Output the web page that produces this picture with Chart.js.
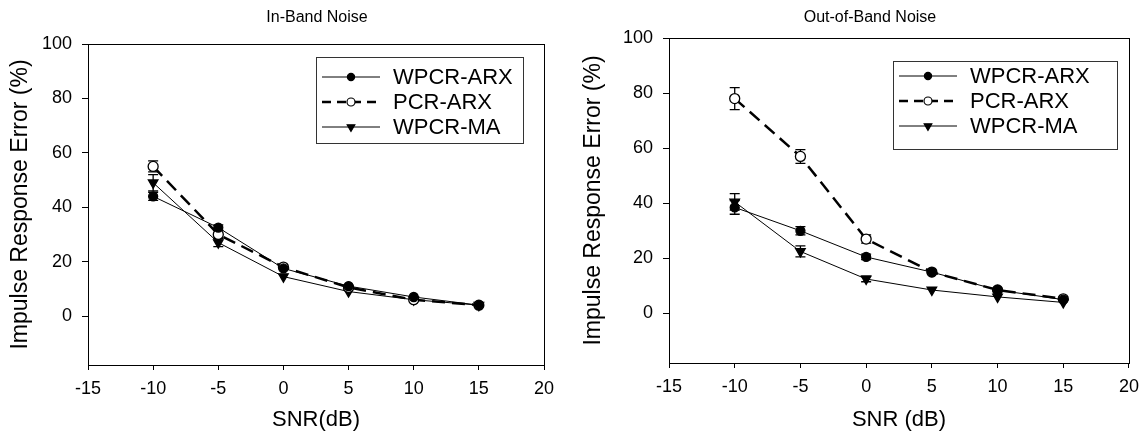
<!DOCTYPE html>
<html><head><meta charset="utf-8">
<script src="https://cdn.jsdelivr.net/npm/chart.js@4.4.0/dist/chart.umd.min.js"></script>
<style>
html,body{margin:0;padding:0;background:#fff;overflow:hidden}
#wrap{position:relative;width:1147px;height:441px;background:#fff}
canvas{position:absolute;top:0}
#c1{left:0}
#c2{left:573px}
</style></head><body>
<div id="wrap"><canvas id="c1" width="573" height="441"></canvas><canvas id="c2" width="574" height="441"></canvas></div>
<script>
// ---- data ----
const snr = [-10, -5, 0, 5, 10, 15];
const seriesNames = ['WPCR-ARX', 'PCR-ARX', 'WPCR-MA'];
const xTicks = [-15, -10, -5, 0, 5, 10, 15, 20];
const yTicks = [0, 20, 40, 60, 80, 100];

// In-Band Noise
const inWPCRARX = [44, 32.5, 17.5, 11, 7, 4];
const inPCRARX  = [55, 30, 18, 10.5, 6, 4];
const inWPCRMA  = [49, 27, 14.5, 9, 6, 4];
const inErrWPCRARX = [1.5, 1, 0.7, 0.5, 0.5, 0.5];
const inErrPCRARX  = [2, 1.5, 0.7, 0.5, 0.5, 0.5];
const inErrWPCRMA  = [3, 1.5, 0.7, 0.5, 0.5, 0.5];

// Out-of-Band Noise
const outWPCRARX = [38.5, 30, 20.5, 15, 8.5, 5];
const outPCRARX  = [78, 57, 27, 15, 8.5, 5.3];
const outWPCRMA  = [40.5, 22.5, 12.5, 8.5, 6, 4];
const outErrWPCRARX = [2.5, 1.5, 1, 0.5, 0.5, 0.5];
const outErrPCRARX  = [4, 2.5, 1.5, 0.5, 0.5, 0.5];
const outErrWPCRMA  = [3, 2, 1, 0.5, 0.5, 0.5];

const FONT = "'Liberation Sans', Arial, Helvetica, sans-serif";

const styles = [
  {borderDash: [], borderWidth: 1, pointStyle: 'circle', pointRadius: 4.5, pointBackgroundColor: '#000', pointRotation: 0},
  {borderDash: [13, 7], borderWidth: 2.5, pointStyle: 'circle', pointRadius: 5, pointBackgroundColor: '#fff', pointRotation: 0},
  {borderDash: [], borderWidth: 1, pointStyle: 'triangle', pointRadius: 5.5, pointBackgroundColor: '#000', pointRotation: 180}
];

function makeDatasets(vals, errs) {
  return vals.map((arr, i) => Object.assign({
    label: seriesNames[i],
    data: snr.map((x, j) => ({x: x, y: arr[j]})),
    err: errs[i],
    borderColor: '#000',
    pointBorderColor: '#000',
    pointBorderWidth: 1.3,
    tension: 0,
    fill: false
  }, styles[i]));
}

// ---- plugins ----
const framePlugin = {
  id: 'frame',
  beforeDatasetsDraw(chart) {
    const a = chart.chartArea, ctx = chart.ctx;
    ctx.save();
    ctx.strokeStyle = '#000';
    ctx.lineWidth = 1;
    ctx.strokeRect(Math.round(a.left) + 0.5, Math.round(a.top) + 0.5, Math.round(a.right - a.left), Math.round(a.bottom - a.top));
    ctx.restore();
  }
};

const errorBarPlugin = {
  id: 'errorBars',
  beforeDatasetsDraw(chart) {
    const ctx = chart.ctx, xs = chart.scales.x, ys = chart.scales.y;
    ctx.save();
    ctx.strokeStyle = '#000';
    ctx.lineWidth = 1.3;
    ctx.setLineDash([]);
    chart.data.datasets.forEach(ds => {
      ds.data.forEach((p, j) => {
        const e = ds.err[j];
        if (!e || e < 1) return;
        const px = xs.getPixelForValue(p.x);
        const y1 = ys.getPixelForValue(p.y + e), y2 = ys.getPixelForValue(p.y - e);
        ctx.beginPath();
        ctx.moveTo(px, y1); ctx.lineTo(px, y2);
        ctx.moveTo(px - 5, y1); ctx.lineTo(px + 5, y1);
        ctx.moveTo(px - 5, y2); ctx.lineTo(px + 5, y2);
        ctx.stroke();
      });
    });
    ctx.restore();
  }
};

function drawMarker(ctx, ds, x, y) {
  Chart.helpers.drawPoint(ctx, {
    pointStyle: ds.pointStyle, rotation: ds.pointRotation, radius: ds.pointRadius * 0.8, borderWidth: 1.2
  }, x, y);
}

const legendBoxPlugin = {
  id: 'legendBox',
  afterDraw(chart, args, opts) {
    const ctx = chart.ctx;
    ctx.save();
    ctx.strokeStyle = '#333';
    ctx.lineWidth = 1;
    ctx.strokeRect(opts.left + 0.5, opts.top + 0.5, opts.width, opts.height);
    chart.data.datasets.forEach((ds, i) => {
      const y = opts.top + opts.rowStart + i * opts.rowGap;
      ctx.strokeStyle = '#000';
      ctx.lineWidth = ds.borderWidth;
      ctx.setLineDash(i === 1 ? [9, 6] : []);
      ctx.beginPath();
      ctx.moveTo(opts.left + 6, y);
      ctx.lineTo(opts.left + 64, y);
      ctx.stroke();
      ctx.setLineDash([]);
      ctx.fillStyle = ds.pointBackgroundColor;
      ctx.strokeStyle = '#000';
      ctx.lineWidth = 1.2;
      drawMarker(ctx, ds, opts.left + 35, y);
      ctx.fillStyle = '#000';
      ctx.font = opts.fontSize + 'px ' + FONT;
      ctx.textBaseline = 'middle';
      ctx.textAlign = 'left';
      ctx.fillText(ds.label, opts.left + 77, y + 1);
    });
    ctx.restore();
  }
};

const panelTitlePlugin = {
  id: 'panelTitle',
  afterDraw(chart, args, opts) {
    const ctx = chart.ctx;
    ctx.save();
    ctx.fillStyle = '#000';
    ctx.font = opts.size + 'px ' + FONT;
    ctx.textAlign = 'center';
    ctx.textBaseline = 'middle';
    ctx.fillText(opts.text, opts.x, opts.y);
    ctx.restore();
  }
};

function makeConfig(datasets, cfg) {
  return {
    type: 'line',
    data: {datasets: datasets},
    plugins: [framePlugin, errorBarPlugin, legendBoxPlugin, panelTitlePlugin],
    options: {
      responsive: false,
      animation: false,
      layout: {padding: {left: 0, right: cfg.padRight, top: cfg.padTop, bottom: 0}},
      plugins: {
        legend: {display: false},
        tooltip: {enabled: false},
        legendBox: cfg.legend,
        panelTitle: cfg.title
      },
      scales: {
        x: {
          type: 'linear', min: -15, max: 20,
          afterBuildTicks: s => { s.ticks = xTicks.map(v => ({value: v})); },
          afterFit: s => { s.height = cfg.xHeight; },
          grid: {display: true, drawOnChartArea: false, drawTicks: true, tickLength: 5, color: '#000', tickColor: '#000', lineWidth: 1},
          border: {display: true, color: '#000', width: 1},
          ticks: {color: '#000', font: {family: FONT, size: 18}, padding: 8, maxRotation: 0, autoSkip: false},
          title: {display: true, text: cfg.xTitle, color: '#000', font: {family: FONT, size: 22}, padding: {top: 0, bottom: 8}}
        },
        y: {
          type: 'linear', min: -18, max: 100,
          afterBuildTicks: s => { s.ticks = yTicks.map(v => ({value: v})); },
          afterFit: s => { s.width = cfg.yWidth; },
          grid: {display: true, drawOnChartArea: false, drawTicks: true, tickLength: 6, color: '#000', tickColor: '#000', lineWidth: 1},
          border: {display: true, color: '#000', width: 1},
          ticks: {color: '#000', font: {family: FONT, size: 18}, padding: 10},
          title: {display: true, text: 'Impulse Response Error (%)', color: '#000', font: {family: FONT, size: 23}, padding: {top: 7, bottom: 0}}
        }
      }
    }
  };
}

new Chart(document.getElementById('c1'), makeConfig(
  makeDatasets([inWPCRARX, inPCRARX, inWPCRMA], [inErrWPCRARX, inErrPCRARX, inErrWPCRMA]),
  {padRight: 29, padTop: 44, xHeight: 76, yWidth: 88, xTitle: 'SNR(dB)',
   legend: {left: 316, top: 57, width: 207, height: 86, rowStart: 20, rowGap: 25, fontSize: 22},
   title: {text: 'In-Band Noise', x: 317, y: 18, size: 16}}
));

new Chart(document.getElementById('c2'), makeConfig(
  makeDatasets([outWPCRARX, outPCRARX, outWPCRMA], [outErrWPCRARX, outErrPCRARX, outErrWPCRMA]),
  {padRight: 17, padTop: 38, xHeight: 78, yWidth: 96, xTitle: 'SNR (dB)',
   legend: {left: 320, top: 61, width: 224, height: 88, rowStart: 15, rowGap: 25, fontSize: 22},
   title: {text: 'Out-of-Band Noise', x: 297, y: 18, size: 16}}
));
</script>
</body></html>
